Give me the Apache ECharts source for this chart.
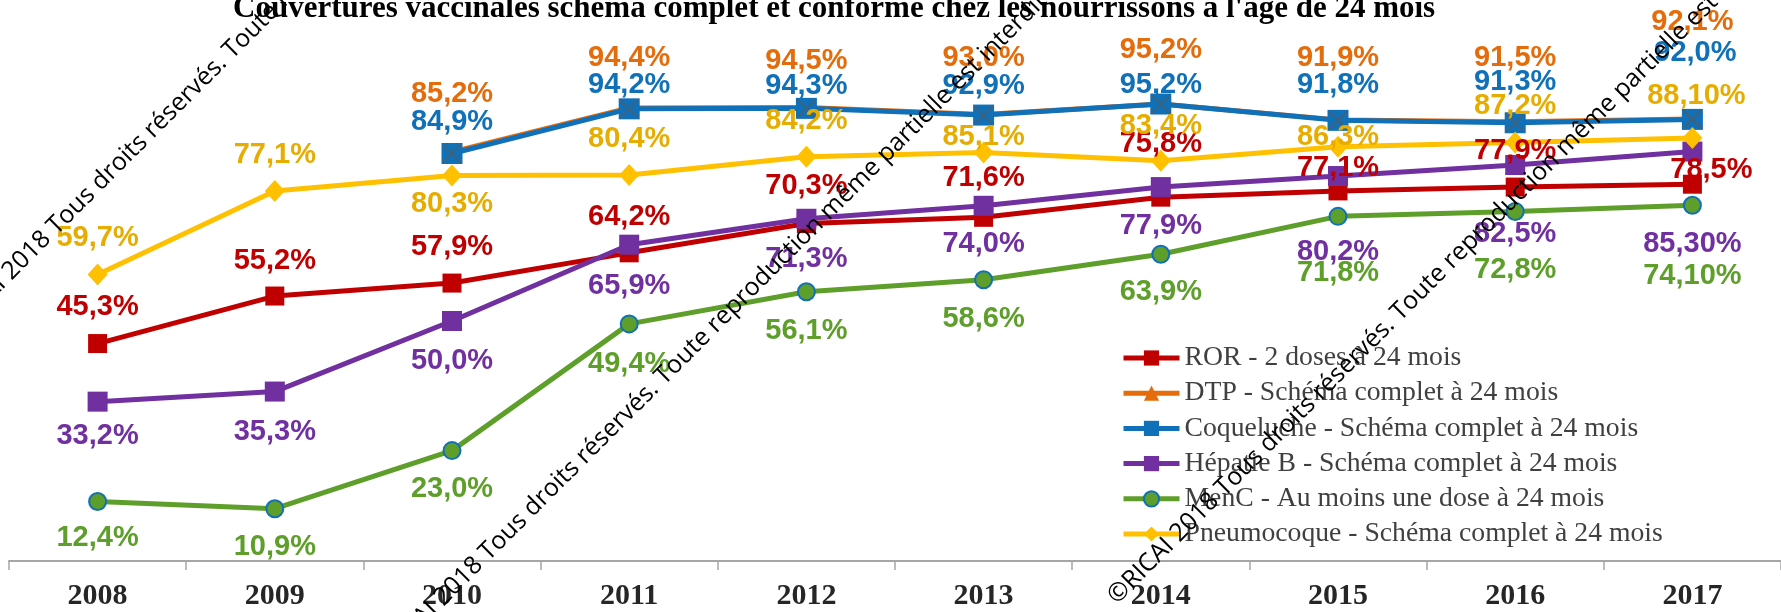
<!DOCTYPE html>
<html>
<head>
<meta charset="utf-8">
<script src="https://cdn.jsdelivr.net/npm/echarts@6/dist/echarts.min.js"></script>
<style>html,body{margin:0;padding:0;background:#fff;}#c{width:1781px;height:612px;}</style>
</head>
<body>
<div id="c"></div>
<script>
// ---- data ----
const years = ['2008','2009','2010','2011','2012','2013','2014','2015','2016','2017'];
const ror    = [45.3, 55.2, 57.9, 64.2, 70.3, 71.6, 75.8, 77.1, 77.9, 78.5];
const dtp    = [null, null, 85.2, 94.4, 94.5, 93.0, 95.2, 91.9, 91.5, 92.1];
const coq    = [null, null, 84.9, 94.2, 94.3, 92.9, 95.2, 91.8, 91.3, 92.0];
const hepB   = [33.2, 35.3, 50.0, 65.9, 71.3, 74.0, 77.9, 80.2, 82.5, 85.30];
const menC   = [12.4, 10.9, 23.0, 49.4, 56.1, 58.6, 63.9, 71.8, 72.8, 74.10];
const pneumo = [59.7, 77.1, 80.3, 80.4, 84.2, 85.1, 83.4, 86.3, 87.2, 88.10];
const seriesNames = [
  'ROR - 2 doses à 24 mois',
  'DTP - Schéma complet à 24 mois',
  'Coqueluche - Schéma complet à 24 mois',
  'Hépatie B - Schéma complet à 24 mois',
  'MenC - Au moins une dose à 24 mois',
  'Pneumocoque - Schéma complet à 24 mois'
];
const titleText = "Couvertures vaccinales schéma complet et conforme chez les nourrissons à l'âge de 24 mois";
const watermarkText = '©RICAI 2018 Tous droits réservés. Toute reproduction même partielle est interdite';

// ---- label layout (pixel offsets of labels from their points; style only) ----
const rorDy    = [-37,-35,-36,-36,-38,-39,-53,-23,-36,-14];
const rorDx    = [0,0,0,0,0,0,0,0,0,19];
const dtpDy    = [0,0,-58,-50,-46,-57,-54,-62,-64,-97];
const coqDy    = [0,0,-31,-24,-22,-29,-19,-35,-41,-66];
const coqDx    = [0,0,0,0,0,0,0,0,0,3];
const hepBDy   = [34,40,40,41,40,38,39,76,69,92];
const menCDy   = [37,38,38,40,39,39,38,57,58,71];
const pneumoDy = [-36,-36,28,-36,-36,-16,-35,-10,-36,-42];
const pneumoDx = [0,0,0,0,0,0,0,0,0,4];
const twoDecLast = [false,false,false,true,true,true];

const zeros = years.map(() => 0);

function mkSeries(idx, values, lineColor, labelColor, symbol, symbolSize, dy, dx, itemExtra) {
  return {
    name: seriesNames[idx],
    type: 'line',
    data: values.map((v, i) => v == null ? '-' : {
      value: v,
      label: { offset: [dx[i], dy[i]] }
    }),
    symbol: symbol,
    symbolSize: symbolSize,
    showAllSymbol: true,
    lineStyle: { color: lineColor, width: 5 },
    itemStyle: Object.assign({ color: lineColor, opacity: 1 }, itemExtra || {}),
    emphasis: { disabled: true },
    label: {
      show: true,
      position: 'inside',
      color: labelColor,
      fontFamily: 'Liberation Sans, Arial, sans-serif',
      fontWeight: 'bold',
      fontSize: 29,
      formatter: p => {
        const last = p.dataIndex === years.length - 1 && twoDecLast[idx];
        return p.value.toFixed(last ? 2 : 1).replace('.', ',') + '%';
      }
    },
    animation: false
  };
}

const series = [
  mkSeries(0, ror,    '#C00000', '#C00000', 'rect',     19, rorDy,    rorDx),
  mkSeries(1, dtp,    '#E46C0A', '#E46C0A', 'triangle', 16, dtpDy,    zeros),
  mkSeries(2, coq,    '#1070B8', '#1070B8', 'rect',     21, coqDy,    coqDx),
  mkSeries(3, hepB,   '#7030A0', '#7030A0', 'rect',     20, hepBDy,   zeros),
  mkSeries(4, menC,   '#5E9E2A', '#5E9E2A', 'circle',   17, menCDy,   zeros, { borderColor: '#1070B8', borderWidth: 2 }),
  mkSeries(5, pneumo, '#FFC000', '#E6AD00', 'diamond',  [20, 22], pneumoDy, pneumoDx),
  {
    name: 'coqX',
    type: 'scatter',
    data: coq.map(v => v == null ? '-' : v),
    symbol: 'path://M0,0L10,10M10,0L0,10',
    symbolSize: 18,
    itemStyle: { color: 'transparent', borderColor: '#5a5a5a', borderWidth: 1.5 },
    silent: true,
    z: 3,
    animation: false
  }
];

function wm(x, y) {
  return {
    type: 'text', x: x, y: y, rotation: Math.PI / 4, z: 100, silent: true,
    style: { text: watermarkText, fill: '#000', font: '25px "Open Sans", sans-serif', textAlign: 'left', textVerticalAlign: 'middle' }
  };
}

const chart = echarts.init(document.getElementById('c'), null, { renderer: 'canvas' });
chart.setOption({
  backgroundColor: '#fff',
  animation: false,
  title: {
    text: titleText,
    left: 228, top: -12,
    textStyle: { fontFamily: 'Liberation Serif, Times New Roman, serif', fontWeight: 'bold', fontSize: 31, color: '#000' }
  },
  grid: { left: 9, right: 0, top: 81, bottom: 51, containLabel: false },
  xAxis: {
    type: 'category',
    data: years,
    boundaryGap: true,
    axisLine: { lineStyle: { color: '#a6a6a6', width: 2 } },
    axisTick: { show: true, length: 9, interval: 0, lineStyle: { color: '#a6a6a6', width: 1.5 } },
    axisLabel: { margin: 20, interval: 0, fontFamily: 'Liberation Serif, Times New Roman, serif', fontWeight: 'bold', fontSize: 30, color: '#262626' },
    splitLine: { show: false }
  },
  yAxis: {
    type: 'value', min: 0, max: 100, interval: 20, show: false,
    splitLine: { show: false }
  },
  legend: {
    data: seriesNames,
    orient: 'vertical',
    left: 1116, top: 339,
    itemWidth: 56, itemHeight: 19, itemGap: 7.2,
    lineStyle: { width: 5 },
    textStyle: { fontFamily: 'Liberation Serif, Times New Roman, serif', fontSize: 27.7, color: '#404040', lineHeight: 26 },
    selectedMode: false
  },
  graphic: [wm(-56, 338), wm(376, 664), wm(1112, 600)],
  series: series
});
</script>
</body>
</html>
